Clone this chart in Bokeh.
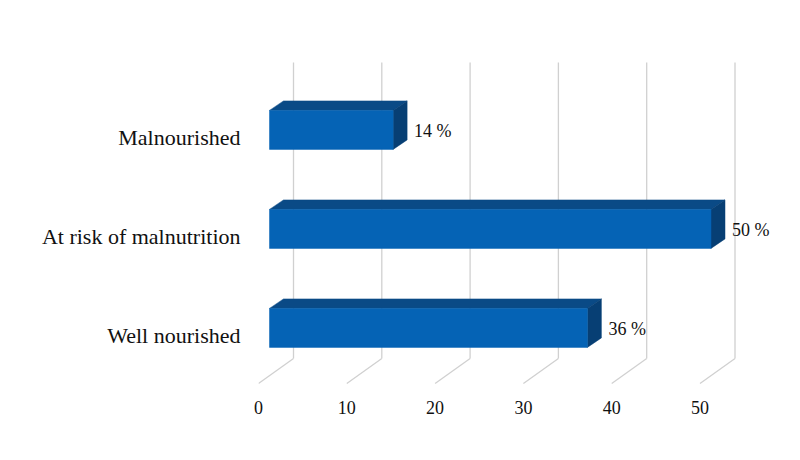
from bokeh.plotting import figure
from bokeh.models import Range1d, FixedTicker, ColumnDataSource
from bokeh.embed import file_html
from bokeh.resources import INLINE
from bokeh.core.properties import value

categories = ["Well nourished", "At risk of malnutrition", "Malnourished"]
values = [36, 50, 14]
labels = ["36 %", "50 %", "14 %"]
x_ticks = [0, 10, 20, 30, 40, 50]

# pixel scales used for the 3-D oblique projection
PX_X = 8.83      # px per value unit
PX_Y = 99.0      # px per category step
def dx(px):
    return px / PX_X
def dy(px):
    return px / PX_Y

FRONT_GAP_X, FRONT_GAP_Y = dx(11), dy(7.6)
BAR_DEPTH_X, BAR_DEPTH_Y = dx(14), dy(9.5)
WALL_X, WALL_Y = dx(35), dy(25)
BAR_H = dy(39)
FLOOR = -0.485
WALL_TOP = 2.758

W, H = 784, 444
LEFT, TOP = 258, 40
FRAME_H = 350
p = figure(width=W, height=H, output_backend="svg", toolbar_location=None,
           x_range=Range1d(0, (W - LEFT) / PX_X),
           y_range=Range1d(-0.5556, -0.5556 + FRAME_H / PX_Y),
           min_border_left=LEFT, min_border_right=0, min_border_top=TOP,
           min_border_bottom=H - TOP - FRAME_H)
p.outline_line_color = None
p.xgrid.visible = False
p.ygrid.visible = False
p.background_fill_color = "white"
p.border_fill_color = "white"

# back wall gridlines and floor diagonals
for t in x_ticks:
    p.line([t + WALL_X, t + WALL_X], [FLOOR + WALL_Y, WALL_TOP], line_color="#d0d0d0", line_width=1.3)
    p.line([t, t + WALL_X], [FLOOR, FLOOR + WALL_Y], line_color="#d0d0d0", line_width=1.3)

# bars
xs_front, ys_front, xs_top, ys_top, xs_side, ys_side = [], [], [], [], [], []
for i, v in enumerate(values):
    x0 = FRONT_GAP_X
    x1 = v + FRONT_GAP_X
    yc = i + FRONT_GAP_Y
    yb, yt = yc - BAR_H / 2, yc + BAR_H / 2
    xs_front.append([x0, x1, x1, x0]); ys_front.append([yb, yb, yt, yt])
    xs_top.append([x0, x1, x1 + BAR_DEPTH_X, x0 + BAR_DEPTH_X])
    ys_top.append([yt, yt, yt + BAR_DEPTH_Y, yt + BAR_DEPTH_Y])
    xs_side.append([x1, x1 + BAR_DEPTH_X, x1 + BAR_DEPTH_X, x1])
    ys_side.append([yb, yb + BAR_DEPTH_Y, yt + BAR_DEPTH_Y, yt])

p.patches(xs_top, ys_top, fill_color="#0a4a86", line_color="#0a4a86", line_width=0.5)
p.patches(xs_side, ys_side, fill_color="#073f74", line_color="#073f74", line_width=0.5)
p.patches(xs_front, ys_front, fill_color="#0563b5", line_color="#0563b5", line_width=0.5)

src = ColumnDataSource(dict(x=[v + FRONT_GAP_X for v in values],
                            y=[i + FRONT_GAP_Y for i in range(len(values))],
                            t=labels))
p.text(x="x", y="y", text="t", source=src, x_offset=21, y_offset=1,
       text_font=value("Liberation Serif"), text_font_size="18px",
       text_color="#111111", text_baseline="middle", text_align="left")

# axes
p.xaxis.ticker = FixedTicker(ticks=x_ticks)
p.xaxis.axis_line_color = None
p.xaxis.major_tick_line_color = None
p.xaxis.minor_tick_line_color = None
p.xaxis.major_label_standoff = 4
p.xaxis.major_label_text_font = "Liberation Serif"
p.xaxis.major_label_text_font_size = "18px"
p.xaxis.major_label_text_color = "#111111"

p.yaxis.ticker = FixedTicker(ticks=list(range(len(categories))))
p.yaxis.major_label_overrides = {i: c for i, c in enumerate(categories)}
p.yaxis.axis_line_color = None
p.yaxis.major_tick_line_color = None
p.yaxis.minor_tick_line_color = None
p.yaxis.major_label_standoff = 12
p.yaxis.major_label_text_font = "Liberation Serif"
p.yaxis.major_label_text_font_size = "22px"
p.yaxis.major_label_text_color = "#111111"

open("out.html", "w").write(file_html(p, INLINE))
